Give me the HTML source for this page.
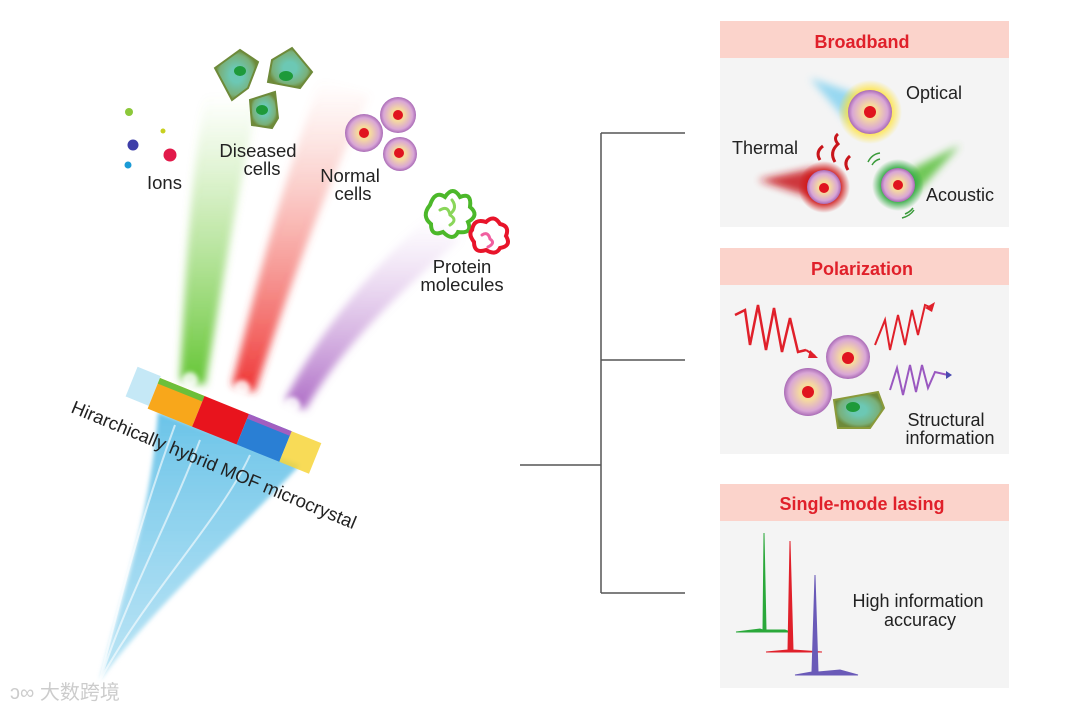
<!DOCTYPE html>
<html><head><meta charset="utf-8"><style>
html,body{margin:0;padding:0;background:#fff;}
svg{display:block;font-family:"Liberation Sans",Arial,sans-serif;}
</style></head><body>
<svg width="1080" height="711" viewBox="0 0 1080 711" xmlns="http://www.w3.org/2000/svg">
<defs>
<filter id="b4" x="-50%" y="-50%" width="200%" height="200%"><feGaussianBlur stdDeviation="4"/></filter>
<filter id="b2" x="-50%" y="-50%" width="200%" height="200%"><feGaussianBlur stdDeviation="2"/></filter>
<linearGradient id="gG" x1="0" y1="1" x2="0" y2="0"><stop offset="0" stop-color="#5cc22a" stop-opacity=".95"/><stop offset="1" stop-color="#8fd65a" stop-opacity="0"/></linearGradient>
<linearGradient id="gR" x1="0" y1="1" x2="0" y2="0"><stop offset="0" stop-color="#ee2a2a" stop-opacity=".95"/><stop offset="1" stop-color="#f58a7a" stop-opacity="0"/></linearGradient>
<linearGradient id="gP" x1="0" y1="1" x2="0" y2="0"><stop offset="0" stop-color="#a45bbf" stop-opacity=".9"/><stop offset="1" stop-color="#d2a8e0" stop-opacity="0"/></linearGradient>
<linearGradient id="gB" x1="0" y1="1" x2="0" y2="0"><stop offset="0" stop-color="#8fd3ee" stop-opacity=".6"/><stop offset="1" stop-color="#5bbde6" stop-opacity=".9"/></linearGradient>
<radialGradient id="cellN"><stop offset="0.35" stop-color="#f5d9a0"/><stop offset="0.8" stop-color="#d9a6d6"/><stop offset="1" stop-color="#a96bb6"/></radialGradient>
<radialGradient id="cellD"><stop offset="0.3" stop-color="#6cc8b4"/><stop offset="0.8" stop-color="#79b07a"/><stop offset="1" stop-color="#6e8a3a"/></radialGradient>
<radialGradient id="glowY"><stop offset="0.6" stop-color="#ffe23a"/><stop offset="1" stop-color="#ffe23a" stop-opacity="0"/></radialGradient>
<radialGradient id="glowR"><stop offset="0.6" stop-color="#d01818"/><stop offset="1" stop-color="#d01818" stop-opacity="0"/></radialGradient>
<radialGradient id="glowG"><stop offset="0.6" stop-color="#2aa83a"/><stop offset="1" stop-color="#2aa83a" stop-opacity="0"/></radialGradient>
</defs>

<!-- blue cone -->
<path d="M100,680 C120,600 150,520 158,412 L300,465 C240,530 160,600 100,680 Z" fill="url(#gB)" filter="url(#b2)"/>
<path d="M100,680 C130,590 170,520 200,440 M100,680 C150,590 220,520 250,455 M100,680 C120,600 140,520 175,425" stroke="#fff" stroke-width="2" fill="none" opacity=".6"/>

<!-- upward beams -->
<path d="M180,380 C185,280 190,180 205,95 L260,95 C235,200 220,300 205,385 Z" fill="url(#gG)" filter="url(#b4)"/>
<path d="M232,385 C255,290 280,190 320,80 L370,95 C320,200 285,300 255,392 Z" fill="url(#gR)" filter="url(#b4)"/>
<path d="M285,400 C320,330 370,270 430,215 L460,240 C390,300 340,350 305,410 Z" fill="url(#gP)" filter="url(#b4)"/>
<circle cx="190" cy="380" r="8" fill="#fff" opacity=".8" filter="url(#b2)"/>
<circle cx="242" cy="388" r="8" fill="#fff" opacity=".8" filter="url(#b2)"/>
<circle cx="292" cy="405" r="8" fill="#fff" opacity=".8" filter="url(#b2)"/>

<!-- MOF bar -->
<g transform="translate(160,378) rotate(22)">
<rect x="-25" y="-2" width="25" height="32" fill="#9ed8f0" opacity=".6"/>
<rect x="0" y="0" width="48" height="33" fill="#f8a71b"/>
<rect x="0" y="0" width="48" height="6" fill="#6cbf3a"/>
<rect x="48" y="0" width="48" height="33" fill="#e8141d"/>
<rect x="96" y="0" width="46" height="33" fill="#2a7fd4"/>
<rect x="96" y="0" width="46" height="5" fill="#a25ec0"/>
<rect x="142" y="0" width="32" height="33" fill="#f7d53a" opacity=".85"/>
</g>
<text x="70" y="412" font-size="18.5" fill="#222" transform="rotate(22.5 70 412)">Hirarchically hybrid MOF microcrystal</text>

<!-- ions -->
<circle cx="129" cy="112" r="4" fill="#8cc83a"/>
<circle cx="133" cy="145" r="5.5" fill="#3e3ea8"/>
<circle cx="128" cy="165" r="3.5" fill="#1a9bd6"/>
<circle cx="163" cy="131" r="2.5" fill="#c8d020"/>
<circle cx="170" cy="155" r="6.5" fill="#e21a4a"/>
<text x="147" y="189" font-size="18.5" fill="#222">Ions</text>

<!-- diseased cells -->
<path d="M215,68 L240,50 L258,62 L248,88 L232,100 Z" fill="url(#cellD)" stroke="#6e8a3a" stroke-width="2"/>
<ellipse cx="240" cy="71" rx="6" ry="5" fill="#1e9a3a"/>
<path d="M272,60 L292,48 L312,72 L300,88 L268,82 Z" fill="url(#cellD)" stroke="#6e8a3a" stroke-width="2"/>
<ellipse cx="286" cy="76" rx="7" ry="5" fill="#1e9a3a"/>
<path d="M250,100 L275,92 L278,118 L272,128 L252,125 Z" fill="url(#cellD)" stroke="#6e8a3a" stroke-width="2"/>
<ellipse cx="262" cy="110" rx="6" ry="5" fill="#1e9a3a"/>
<text x="258" y="157" font-size="18.5" fill="#222" text-anchor="middle">Diseased</text>
<text x="262" y="175" font-size="18.5" fill="#222" text-anchor="middle">cells</text>

<!-- normal cells -->
<circle cx="364" cy="133" r="19" fill="url(#cellN)"/><circle cx="364" cy="133" r="5" fill="#e0141e"/>
<circle cx="398" cy="115" r="18" fill="url(#cellN)"/><circle cx="398" cy="115" r="5" fill="#e0141e"/>
<circle cx="400" cy="154" r="17" fill="url(#cellN)"/><circle cx="399" cy="153" r="5" fill="#e0141e"/>
<text x="350" y="182" font-size="18.5" fill="#222" text-anchor="middle">Normal</text>
<text x="353" y="200" font-size="18.5" fill="#222" text-anchor="middle">cells</text>

<!-- proteins -->
<g fill="none" stroke-linecap="round">
<path d="M430,205 q5,-15 15,-8 q8,-12 15,0 q12,-5 10,10 q10,8 -2,15 q5,12 -10,10 q-5,10 -15,0 q-12,5 -12,-8 q-10,-8 -1,-19" stroke="#4cb82a" stroke-width="4"/>
<path d="M440,210 q8,-5 10,5 q8,5 0,10 M452,200 q6,8 -2,14" stroke="#8ad65a" stroke-width="3"/>
<path d="M472,230 q2,-12 14,-8 q8,-8 14,2 q10,2 6,12 q6,10 -6,12 q-4,8 -14,2 q-12,4 -12,-8 q-6,-8 -2,-12" stroke="#e8142a" stroke-width="4"/>
<path d="M482,235 q6,-4 8,4 q6,4 -2,8" stroke="#f060a0" stroke-width="3"/>
</g>
<text x="462" y="273" font-size="18.5" fill="#222" text-anchor="middle">Protein</text>
<text x="462" y="291" font-size="18.5" fill="#222" text-anchor="middle">molecules</text>

<!-- bracket -->
<g stroke="#555" stroke-width="1.5" fill="none">
<path d="M520,465 H601 M601,133 V593 M601,133 H685 M601,360 H685 M601,593 H685"/>
</g>

<!-- panels -->
<rect x="720" y="21" width="289" height="37" fill="#fbd3cb"/>
<rect x="720" y="58" width="289" height="169" fill="#f4f4f4"/>
<text x="862" y="48" font-size="18" font-weight="bold" fill="#e0202a" text-anchor="middle">Broadband</text>
<rect x="720" y="248" width="289" height="37" fill="#fbd3cb"/>
<rect x="720" y="285" width="289" height="169" fill="#f4f4f4"/>
<text x="862" y="275" font-size="18" font-weight="bold" fill="#e0202a" text-anchor="middle">Polarization</text>
<rect x="720" y="484" width="289" height="37" fill="#fbd3cb"/>
<rect x="720" y="521" width="289" height="167" fill="#f4f4f4"/>
<text x="862" y="510" font-size="18" font-weight="bold" fill="#e0202a" text-anchor="middle">Single-mode lasing</text>

<!-- broadband content -->
<path d="M810,78 L860,95 L850,125 Z" fill="#7fd0f0" opacity=".8" filter="url(#b4)"/>
<circle cx="870" cy="112" r="32" fill="url(#glowY)"/>
<circle cx="870" cy="112" r="22" fill="url(#cellN)"/><circle cx="870" cy="112" r="6" fill="#e0141e"/>
<text x="906" y="99" font-size="18" fill="#222">Optical</text>
<path d="M758,180 L815,168 L820,200 Z" fill="#c8141a" opacity=".85" filter="url(#b4)"/>
<circle cx="824" cy="187" r="26" fill="url(#glowR)"/>
<circle cx="824" cy="187" r="17" fill="url(#cellN)"/><circle cx="824" cy="188" r="5" fill="#e0141e"/>
<path d="M820,160 q-5,-8 3,-14 M835,162 q-6,-10 3,-18 q-5,-6 0,-10 M848,170 q-5,-8 2,-14" stroke="#c8141a" stroke-width="3" fill="none"/>
<text x="732" y="154" font-size="18" fill="#222">Thermal</text>
<path d="M960,145 L910,170 L915,195 Z" fill="#58c03a" opacity=".85" filter="url(#b4)"/>
<circle cx="898" cy="185" r="26" fill="url(#glowG)"/>
<circle cx="898" cy="185" r="17" fill="url(#cellN)"/><circle cx="898" cy="185" r="5" fill="#e0141e"/>
<path d="M868,162 q4,-8 12,-9 M872,165 q3,-5 8,-6 M902,218 q8,-2 12,-8 M905,214 q5,-2 8,-6" stroke="#3a9a3a" stroke-width="1.5" fill="none"/>
<text x="926" y="201" font-size="18" fill="#222">Acoustic</text>

<!-- polarization content -->
<path d="M735,315 L745,310 L750,345 L758,305 L766,350 L774,308 L782,352 L790,318 L798,352 L806,350" stroke="#e0202a" stroke-width="2.5" fill="none"/>
<path d="M806,350 L815,356" stroke="#e0202a" stroke-width="2"/><path d="M810,350 L818,358 L808,358 Z" fill="#e0202a"/>
<path d="M875,345 L885,320 L890,350 L898,315 L905,345 L912,310 L918,335 L925,305 L932,308" stroke="#e0202a" stroke-width="2" fill="none"/>
<path d="M925,308 L935,302 L932,312 Z" fill="#e0202a"/>
<path d="M890,390 L897,368 L903,395 L910,365 L916,392 L922,365 L928,388 L935,372 L948,375" stroke="#9a58c0" stroke-width="2" fill="none"/>
<path d="M946,371 L952,375 L946,379 Z" fill="#4a4ab0"/>
<circle cx="848" cy="357" r="22" fill="url(#cellN)"/><circle cx="848" cy="358" r="6" fill="#e0141e"/>
<circle cx="808" cy="392" r="24" fill="url(#cellN)"/><circle cx="808" cy="392" r="6" fill="#e0141e"/>
<path d="M834,400 L878,392 L884,408 L870,428 L838,428 Z" fill="url(#cellD)" stroke="#8a9a3a" stroke-width="2"/>
<ellipse cx="853" cy="407" rx="7" ry="5" fill="#1e9a3a"/>
<text x="946" y="426" font-size="18" fill="#222" text-anchor="middle">Structural</text>
<text x="950" y="444" font-size="18" fill="#222" text-anchor="middle">information</text>

<!-- lasing content -->
<path d="M736,632 L760,629 L763,630 L764,533 L766,630 L785,630 L790,632 Z" fill="#2aa83a" stroke="#2aa83a" stroke-width="1"/>
<path d="M766,652 L788,650 L790,541 L793,650 L822,652 Z" fill="#e0202a" stroke="#e0202a" stroke-width="1"/>
<path d="M795,675 L812,672 L815,575 L818,672 L840,670 L858,675 Z" fill="#6a5ab8" stroke="#6a5ab8" stroke-width="1"/>
<text x="918" y="607" font-size="18" fill="#222" text-anchor="middle">High information</text>
<text x="920" y="626" font-size="18" fill="#222" text-anchor="middle">accuracy</text>

<!-- watermark -->
<text x="10" y="699" font-size="20" fill="#ccc" font-family="'Liberation Sans','Noto Sans CJK SC',sans-serif">ↄ∞ 大数跨境</text>
</svg>
</body></html>
